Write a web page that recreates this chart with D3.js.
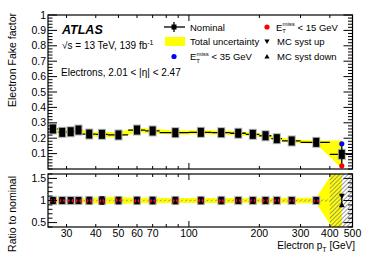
<!DOCTYPE html>
<html>
<head>
<meta charset="utf-8">
<script src="https://cdn.jsdelivr.net/npm/d3@7"></script>
<style>
  body { margin: 0; background: #fff; }
  svg { display: block; font-family: "Liberation Sans", Arial, sans-serif; }
</style>
</head>
<body>
<svg id="chart" width="374" height="253"></svg>
<script>
// bin edges in electron pT [GeV]
var binEdges = [25, 27.5, 30, 32.5, 35, 40, 45, 55, 65, 75, 100, 125, 150, 175, 200, 225, 250, 300, 400, 500];
// nominal fake factor per bin
var nominal = [0.260, 0.238, 0.242, 0.253, 0.227, 0.225, 0.221, 0.253, 0.247, 0.236, 0.238, 0.236, 0.232, 0.225, 0.216, 0.197, 0.182, 0.173, 0.095];
// total uncertainty (absolute)
var totalUnc = [0.014, 0.014, 0.014, 0.014, 0.015, 0.017, 0.017, 0.016, 0.015, 0.014, 0.014, 0.014, 0.013, 0.012, 0.012, 0.012, 0.011, 0.011, 0.090];
// statistical uncertainty (absolute)
var statUnc = [0.004, 0.004, 0.004, 0.004, 0.004, 0.004, 0.004, 0.004, 0.004, 0.004, 0.004, 0.004, 0.004, 0.004, 0.004, 0.004, 0.004, 0.004, 0.070];
// fake factor with E_T^miss < 35 GeV and < 15 GeV
var met35 = [0.261, 0.243, 0.243, 0.254, 0.231, 0.226, 0.219, 0.257, 0.251, 0.237, 0.242, 0.240, 0.233, 0.226, 0.217, 0.198, 0.183, 0.176, 0.164];
var met15 = [0.257, 0.235, 0.240, 0.250, 0.222, 0.219, 0.224, 0.248, 0.241, 0.232, 0.235, 0.232, 0.229, 0.223, 0.214, 0.195, 0.180, 0.170, 0.021];
// MC syst up / down, ratio to nominal
var systUp = [1.03, 1.03, 1.03, 1.03, 1.04, 1.05, 1.04, 1.04, 1.04, 1.04, 1.04, 1.04, 1.03, 1.03, 1.03, 1.03, 1.03, 1.03, 1.10];
var systDown = [0.97, 0.97, 0.97, 0.97, 0.96, 0.95, 0.96, 0.96, 0.96, 0.96, 0.96, 0.96, 0.97, 0.97, 0.97, 0.97, 0.97, 0.97, 0.90];
var xTickLabels = [30, 40, 50, 60, 70, 100, 200, 300, 400, 500];
var yTicksTop = [0.1, 0.2, 0.3, 0.4, 0.5, 0.6, 0.7, 0.8, 0.9, 1];
var yTicksRatio = [0.5, 1, 1.5];

var svg = d3.select("#chart");
var left = 48, right = 352.5;
var topY0 = 15, topY1 = 169, ratY0 = 174, ratY1 = 227;

var x = d3.scaleLog().domain([25, 500]).range([left, right]);
var yTop = d3.scaleLinear().domain([0, 1]).range([topY1, topY0]);
var yRat = d3.scaleLinear().domain([0.4, 1.6]).range([ratY1, ratY0]);

var bins = nominal.map(function(v, i) {
    var lo = binEdges[i], hi = binEdges[i + 1];
    return {
        lo: lo, hi: hi, c: (lo + hi) / 2, v: v,
        tot: totalUnc[i], stat: statUnc[i],
        m35: met35[i], m15: met15[i],
        up: systUp[i], dn: systDown[i]
    };
});

var defs = svg.append("defs");
var pat = defs.append("pattern")
    .attr("id", "hatch")
    .attr("patternUnits", "userSpaceOnUse")
    .attr("width", 3).attr("height", 3)
    .attr("patternTransform", "rotate(45)");
pat.append("line").attr("x1", 0).attr("y1", 0).attr("x2", 0).attr("y2", 3)
    .attr("stroke", "#808080").attr("stroke-width", 1.6);

defs.append("clipPath").attr("id", "clipTop").append("rect")
    .attr("x", left).attr("y", topY0).attr("width", right - left).attr("height", topY1 - topY0);
defs.append("clipPath").attr("id", "clipRat").append("rect")
    .attr("x", left).attr("y", ratY0).attr("width", right - left).attr("height", ratY1 - ratY0);

function tri(cx, cy, down, s) {
    s = s || 3;
    if (down) return "M" + (cx - s) + "," + (cy - s * 0.8) + "L" + (cx + s) + "," + (cy - s * 0.8) + "L" + cx + "," + (cy + s) + "Z";
    return "M" + (cx - s) + "," + (cy + s * 0.8) + "L" + (cx + s) + "," + (cy + s * 0.8) + "L" + cx + "," + (cy - s) + "Z";
}

// ---------- top panel ----------
var gTop = svg.append("g").attr("clip-path", "url(#clipTop)");

var bandTop = d3.area()
    .x(function(d) { return x(d.c); })
    .y0(function(d) { return yTop(d.v - d.tot); })
    .y1(function(d) { return yTop(d.v + d.tot); });
gTop.append("path").attr("d", bandTop(bins)).attr("fill", "#ffff00");

gTop.selectAll("line.hbar").data(bins).enter().append("line")
    .attr("x1", function(d) { return x(d.lo); })
    .attr("x2", function(d) { return x(d.hi); })
    .attr("y1", function(d) { return yTop(d.v); })
    .attr("y2", function(d) { return yTop(d.v); })
    .attr("stroke", "#000").attr("stroke-width", 1.3);

gTop.selectAll("rect.halo").data(bins).enter().append("rect")
    .attr("x", function(d) { return x(d.c) - 4; })
    .attr("y", function(d) { return yTop(d.v) - 5.5; })
    .attr("width", 8).attr("height", 11)
    .attr("fill", "#b0b0b0");

gTop.selectAll("line.vbar").data(bins).enter().append("line")
    .attr("x1", function(d) { return x(d.c); })
    .attr("x2", function(d) { return x(d.c); })
    .attr("y1", function(d) { return yTop(d.v - d.stat); })
    .attr("y2", function(d) { return yTop(d.v + d.stat); })
    .attr("stroke", "#000").attr("stroke-width", 1.3);

gTop.selectAll("circle.m35").data(bins).enter().append("circle")
    .attr("cx", function(d) { return x(d.c); })
    .attr("cy", function(d) { return yTop(d.m35); })
    .attr("r", 2.6).attr("fill", "#0000ff");
gTop.selectAll("circle.m15").data(bins).enter().append("circle")
    .attr("cx", function(d) { return x(d.c); })
    .attr("cy", function(d) { return yTop(d.m15); })
    .attr("r", 2.6).attr("fill", "#ff0000");

gTop.selectAll("rect.mk").data(bins).enter().append("rect")
    .attr("x", function(d) { return x(d.c) - 3; })
    .attr("y", function(d) { return yTop(d.v) - 4.5; })
    .attr("width", 6).attr("height", 9)
    .attr("fill", "#000");

// ---------- ratio panel ----------
var gRat = svg.append("g").attr("clip-path", "url(#clipRat)");

var bandRat = d3.area()
    .x(function(d) { return x(d.c); })
    .y0(function(d) { return yRat(1 - d.tot / d.v); })
    .y1(function(d) { return yRat(1 + d.tot / d.v); });
gRat.append("path").attr("d", bandRat(bins)).attr("fill", "#ffff00");

gRat.selectAll("rect.stat").data(bins).enter().append("rect")
    .attr("x", function(d) { return x(d.lo); })
    .attr("width", function(d) { return x(d.hi) - x(d.lo); })
    .attr("y", function(d) { return yRat(1 + d.stat / d.v); })
    .attr("height", function(d) { return yRat(1 - d.stat / d.v) - yRat(1 + d.stat / d.v); })
    .attr("fill", "url(#hatch)");

var inner = bins.slice(0, bins.length - 1);
var last = bins[bins.length - 1];

gRat.selectAll("rect.halo").data(inner).enter().append("rect")
    .attr("x", function(d) { return x(d.c) - 4; })
    .attr("y", function(d) { return yRat(1.07) - 1.5; })
    .attr("width", 8)
    .attr("height", function(d) { return yRat(0.93) - yRat(1.07) + 3; })
    .attr("fill", "#b0b0b0");
gRat.selectAll("rect.err").data(inner).enter().append("rect")
    .attr("x", function(d) { return x(d.c) - 3; })
    .attr("y", function(d) { return yRat(1.07); })
    .attr("width", 6)
    .attr("height", function(d) { return yRat(0.93) - yRat(1.07); })
    .attr("fill", "#000");

gRat.selectAll("circle.m35").data(inner).enter().append("circle")
    .attr("cx", function(d) { return x(d.c); })
    .attr("cy", function(d) { return yRat(d.m35 / d.v); })
    .attr("r", 2.6).attr("fill", "#0000ff");
gRat.selectAll("circle.m15").data(inner).enter().append("circle")
    .attr("cx", function(d) { return x(d.c); })
    .attr("cy", function(d) { return yRat(d.m15 / d.v); })
    .attr("r", 2.6).attr("fill", "#ff0000");
gRat.selectAll("path.up").data(inner).enter().append("path")
    .attr("d", function(d) { return tri(x(d.c), yRat(d.up), true, 2.6); })
    .attr("fill", "#000");
gRat.selectAll("path.dn").data(inner).enter().append("path")
    .attr("d", function(d) { return tri(x(d.c), yRat(d.dn), false, 2.6); })
    .attr("fill", "#000");

// last bin: only the MC syst markers fall inside the range
gRat.append("line")
    .attr("x1", x(last.c)).attr("x2", x(last.c))
    .attr("y1", yRat(last.up)).attr("y2", yRat(last.dn))
    .attr("stroke", "#000").attr("stroke-width", 1.2);
gRat.append("path").attr("d", tri(x(last.c), yRat(last.up), true, 3)).attr("fill", "#000");
gRat.append("path").attr("d", tri(x(last.c), yRat(last.dn), false, 3)).attr("fill", "#000");

// ---------- frames and axes ----------
function frame(y0, y1) {
    svg.append("rect")
        .attr("x", left).attr("y", y0)
        .attr("width", right - left).attr("height", y1 - y0)
        .attr("fill", "none").attr("stroke", "#000").attr("stroke-width", 1.2);
}
frame(topY0, topY1);
frame(ratY0, ratY1);

function yTicks(scale, majors, minorStep, lo, hi, labelFmt) {
    var g = svg.append("g");
    var minors = d3.range(lo, hi + 1e-9, minorStep);
    minors.forEach(function(v) {
        var isMajor = majors.some(function(m) { return Math.abs(m - v) < 1e-6; });
        var len = isMajor ? 9 : 4.5;
        [left, right].forEach(function(xx, k) {
            g.append("line")
                .attr("x1", xx).attr("x2", k === 0 ? xx + len : xx - len)
                .attr("y1", scale(v)).attr("y2", scale(v))
                .attr("stroke", "#000").attr("stroke-width", 1);
        });
    });
    majors.forEach(function(v) {
        g.append("text")
            .attr("x", left - 2).attr("y", scale(v) + 3.6)
            .attr("text-anchor", "end").attr("font-size", 10.5)
            .text(labelFmt(v));
    });
}
yTicks(yTop, yTicksTop, 0.02, 0, 1, function(v) { return v === 1 ? "1" : d3.format(".1f")(v); });
yTicks(yRat, yTicksRatio, 0.1, 0.4, 1.6, function(v) { return v === 1 ? "1" : d3.format(".1f")(v); });

// log x ticks on both panels, top and bottom edges
var xMinor = [30, 40, 50, 60, 70, 80, 90, 100, 200, 300, 400, 500];
[[topY0, topY1], [ratY0, ratY1]].forEach(function(p) {
    xMinor.forEach(function(t) {
        var len = t === 100 ? 6 : 3;
        svg.append("line").attr("x1", x(t)).attr("x2", x(t))
            .attr("y1", p[1]).attr("y2", p[1] - len)
            .attr("stroke", "#000").attr("stroke-width", 1);
        svg.append("line").attr("x1", x(t)).attr("x2", x(t))
            .attr("y1", p[0]).attr("y2", p[0] + len)
            .attr("stroke", "#000").attr("stroke-width", 1);
    });
});
svg.append("g").selectAll("text").data(xTickLabels).enter().append("text")
    .attr("x", function(d) { return x(d); })
    .attr("y", 237)
    .attr("text-anchor", "middle").attr("font-size", 10.5)
    .text(function(d) { return d; });

// axis titles
svg.append("text")
    .attr("transform", "translate(16,13) rotate(-90)")
    .attr("text-anchor", "end").attr("font-size", 10.5)
    .text("Electron Fake factor");
svg.append("text")
    .attr("transform", "translate(16,176) rotate(-90)")
    .attr("text-anchor", "end").attr("font-size", 10.5)
    .text("Ratio to nominal");
var xt = svg.append("text")
    .attr("x", 355).attr("y", 249)
    .attr("text-anchor", "end").attr("font-size", 10);
xt.append("tspan").text("Electron p");
xt.append("tspan").attr("font-size", 7).attr("dy", 2.5).text("T");
xt.append("tspan").attr("dy", -2.5).text(" [GeV]");

// ATLAS labels
svg.append("text")
    .attr("x", 62).attr("y", 33.5)
    .attr("font-size", 12.5).attr("font-weight", "bold").attr("font-style", "italic")
    .text("ATLAS");
var sq = svg.append("text").attr("x", 62).attr("y", 48.5).attr("font-size", 10);
sq.append("tspan").text("\u221As = 13 TeV, 139 fb");
sq.append("tspan").attr("font-size", 7).attr("dy", -4).text("-1");
svg.append("text")
    .attr("x", 61).attr("y", 75.5).attr("font-size", 10)
    .text("Electrons, 2.01 < |\u03b7| < 2.47");

// legend
var lg = svg.append("g").attr("font-size", 9.5);
lg.append("line").attr("x1", 164).attr("x2", 185).attr("y1", 27).attr("y2", 27)
    .attr("stroke", "#000").attr("stroke-width", 1.3);
lg.append("line").attr("x1", 174).attr("x2", 174).attr("y1", 22).attr("y2", 32)
    .attr("stroke", "#000").attr("stroke-width", 1.3);
lg.append("rect").attr("x", 171.5).attr("y", 24.5).attr("width", 5).attr("height", 5).attr("fill", "#000");
lg.append("text").attr("x", 190).attr("y", 30.5).text("Nominal");
lg.append("rect").attr("x", 165).attr("y", 37).attr("width", 20).attr("height", 9).attr("fill", "#ffff00");
lg.append("text").attr("x", 190).attr("y", 45).text("Total uncertainty");
lg.append("circle").attr("cx", 174).attr("cy", 56.5).attr("r", 2.6).attr("fill", "#0000ff");

function metLabel(xx, yy, cut) {
    var t = lg.append("text").attr("x", xx).attr("y", yy);
    t.append("tspan").text("E");
    t.append("tspan").attr("font-size", 6).attr("dy", 2.5).text("T");
    t.append("tspan").attr("font-size", 6).attr("dx", -3.5).attr("dy", -7).text("miss");
    t.append("tspan").attr("dy", 4.5).text(" < " + cut + " GeV");
}
metLabel(190, 60, 35);
lg.append("circle").attr("cx", 267).attr("cy", 27).attr("r", 2.6).attr("fill", "#ff0000");
metLabel(276, 30.5, 15);
lg.append("path").attr("d", tri(267, 41.5, true, 2.6)).attr("fill", "#000");
lg.append("text").attr("x", 277).attr("y", 45).text("MC syst up");
lg.append("path").attr("d", tri(267, 56.5, false, 2.6)).attr("fill", "#000");
lg.append("text").attr("x", 277).attr("y", 60).text("MC syst down");
</script>
</body>
</html>
